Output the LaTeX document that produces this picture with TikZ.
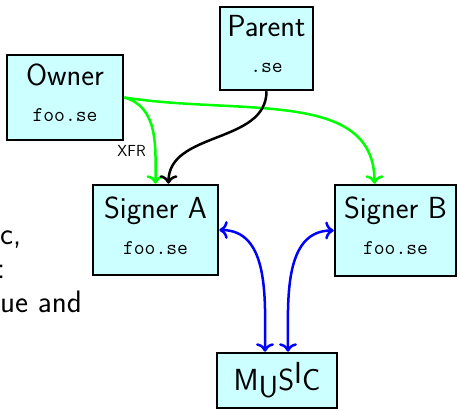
\documentclass[tikz,border=0pt]{standalone}
\usepackage{fontspec}
\usetikzlibrary{arrows.meta}
\renewcommand{\familydefault}{\sfdefault}
\definecolor{boxfill}{RGB}{204,255,255}

\begin{document}
\begin{tikzpicture}[x=1pt,y=1pt]
    \newcommand{\lwidth}{2.5pt} % width of the frames and the arrows
    \newcommand{\zonename}[1]{{\ttfamily\fontsize{21}{30}\selectfont #1\strut}}

    % set the style of the boxes and links
    \tikzset{
        box/.style={
            draw,
            fill=boxfill,
            line width=\lwidth,
            align=center,
            inner sep=0pt,
            font=\fontsize{30.5}{36}\selectfont
            },
        link/.style={
            line width=\lwidth,
            >={To[scale=1.2]}
            },
        slide/.style={
            anchor=base west,
            inner sep=0pt,
            font=\fontsize{31}{36}\selectfont
            }
    }

    \useasboundingbox (0,0) rectangle (458,410);

    % rest of the slide text
    \node[slide] (texta) at (0,165.5) {c,};
    \node[slide, anchor=base east] (textb) at (5.5,131) {:};
    \node[slide] (textc) at (0,97) {ue and};

    % boxes
    \node[box, minimum width=116pt, minimum height=85pt] (owner) at (65,312.5) {Owner\\\zonename{foo.se}};
    \node[box, minimum width=93pt, minimum height=83pt] (parent) at (266.5,361.5) {Parent\\\zonename{.se}};
    \node[box, minimum width=125pt, minimum height=90pt] (signera) at (155.5,180) {Signer A\\\zonename{foo.se}};
    \node[box, minimum width=121pt, minimum height=91pt] (signerb) at (395.5,179.5) {Signer B\\\zonename{foo.se}};
    \node[box, minimum width=120pt, minimum height=55pt] (music) at (277,29.5) {M\raisebox{-7pt}{U}S\raisebox{7pt}{I}C};

    % delegation and transfer
    \draw[link, ->, green] (owner.east) to[out=-15, in=90]
        node[pos=.7, left=5pt, font=\fontsize{16}{16}\selectfont, text=black] (xfr) {XFR} (signera.north);
    \draw[link, ->, green] (owner.east) .. controls +(117,-18) and +(0,95) .. ([xshift=-21pt]signerb.north);
    \draw[link, ->] (parent.south) to[out=-90, in=90] ([xshift=13pt]signera.north);

    % signers talking to MUSIC
    \draw[link, <->, blue] (signera.east) to[out=0, in=90] ([xshift=-12pt]music.north);
    \draw[link, <->, blue] (signerb.west) to[out=180, in=90] ([xshift=11pt]music.north);

\end{tikzpicture}
\end{document}
